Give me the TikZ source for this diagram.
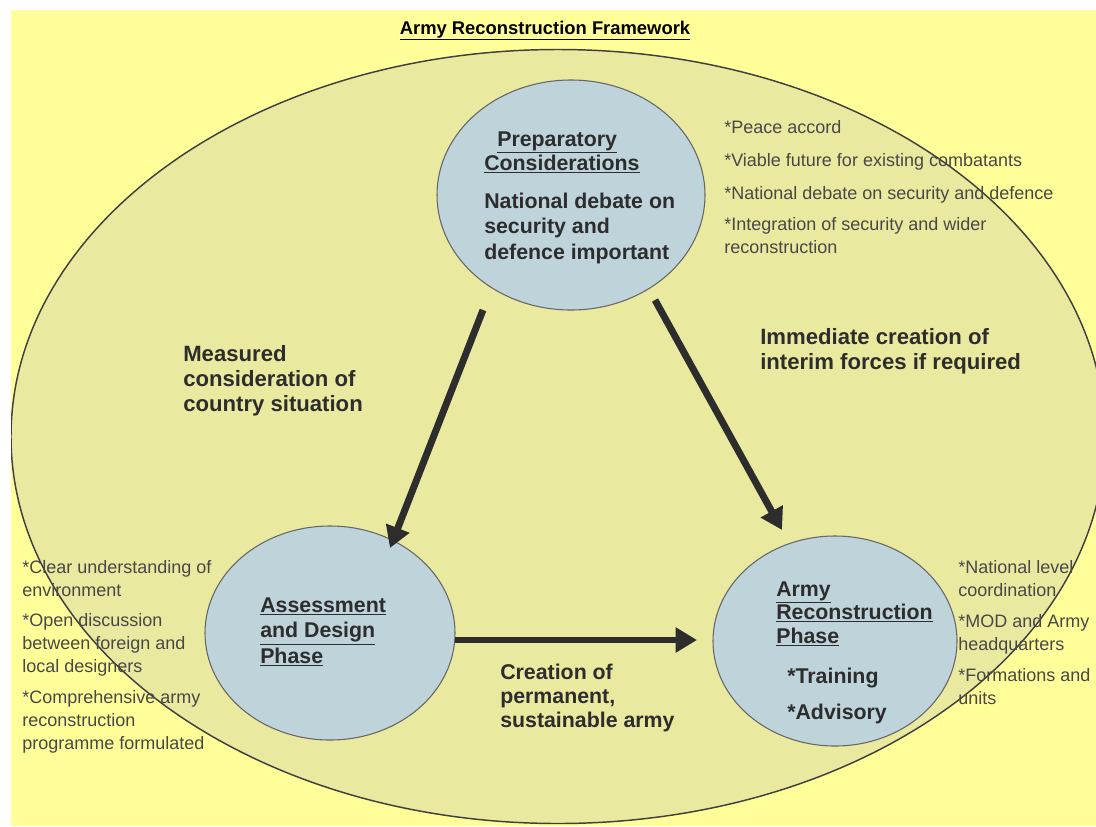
\documentclass[tikz,border=0pt]{standalone}
\usepackage{fontspec}
\setmainfont{Liberation Sans}
\usetikzlibrary{shapes.geometric,arrows.meta,calc}
\definecolor{bgyellow}{RGB}{255,254,153}
\definecolor{ellfill}{RGB}{234,233,160}
\definecolor{circfill}{RGB}{190,212,218}
\definecolor{txtdark}{RGB}{45,45,45}
\definecolor{txtgray}{RGB}{72,72,72}
\definecolor{arrowcol}{RGB}{45,45,45}
\begin{document}
\begin{tikzpicture}[x=0.75pt,y=-0.75pt,
  phase/.style={ellipse, draw=black!60, line width=0.8pt, fill=circfill, inner sep=0},
  boldtxt/.style={font=\bfseries\fontsize{16}{19}\selectfont, text=txtdark, align=left, anchor=base west, inner sep=0},
  sidetxt/.style={font=\fontsize{13.5}{16.9}\selectfont, text=txtgray, align=left, anchor=base west, inner sep=0},
  bigarrow/.style={draw=arrowcol, line width=5.2pt, -{Triangle[length=16pt,width=18pt]}}
]
\useasboundingbox (0,0) rectangle (1096,826);
\fill[bgyellow] (11,10) rectangle (1096,826);
\begin{scope}
  \clip (11,10) rectangle (1096,826);
  \draw[fill=ellfill, draw=black!75, line width=1.1pt] (558,436.5) ellipse [x radius=547, y radius=387];
\end{scope}

\node[font=\bfseries\fontsize{13.8}{16}\selectfont, anchor=base, inner sep=0] (title) at (545,34) {\underline{Army Reconstruction Framework}};

\node[phase, minimum width=268*0.75pt, minimum height=230*0.75pt] (prep) at (571,195) {};
\node[phase, minimum width=250*0.75pt, minimum height=214*0.75pt] (assess) at (330,633) {};
\node[phase, minimum width=244*0.75pt, minimum height=210*0.75pt] (armyrec) at (835,641) {};

\draw[bigarrow] ($(prep)+(-88,115)$) -- ($(assess)+(60,-85)$);
\draw[bigarrow] ($(prep)+(84,105)$) -- ($(armyrec)+(-53,-111)$);
\draw[bigarrow] ($(assess)+(125,7)$) -- ($(armyrec)+(-138,-1)$);

% anchor base west = baseline of the LAST line
\node[boldtxt, font=\bfseries\fontsize{16}{18}\selectfont] (prepT) at (484,170) {\hspace*{9.75pt}\underline{Preparatory}\\\underline{Considerations}};
\node[boldtxt] (prepB) at (484,259) {National debate on\\security and\\defence important};

\node[boldtxt, font=\bfseries\fontsize{16}{19.1}\selectfont] (assessT) at (260,663) {\underline{Assessment}\\\underline{and Design}\\\underline{Phase}};
\node[boldtxt, font=\bfseries\fontsize{16}{17.6}\selectfont] (armyT) at (776,643) {\underline{Army}\\\underline{Reconstruction}\\\underline{Phase}};
\node[boldtxt, font=\bfseries\fontsize{16}{27}\selectfont] (armyB) at (787,719) {*Training\\*Advisory};

\node[boldtxt, font=\bfseries\fontsize{16.6}{18.75}\selectfont] (measured) at (183,411) {Measured\\consideration of\\country situation};
\node[boldtxt, font=\bfseries\fontsize{16.6}{18.75}\selectfont] (immediate) at (760,369) {Immediate creation of\\interim forces if required};
\node[boldtxt, font=\bfseries\fontsize{16}{18}\selectfont] (creation) at (500,727) {Creation of\\permanent,\\sustainable army};

\node[sidetxt] (p1) at (724,133) {*Peace accord};
\node[sidetxt] (p2) at (724,166) {*Viable future for existing combatants};
\node[sidetxt] (p3) at (724,199) {*National debate on security and defence};
\node[sidetxt] (p4) at (724,253) {*Integration of security and wider\\reconstruction};

\node[sidetxt] (a1) at (22,596) {*Clear understanding of\\environment};
\node[sidetxt] (a2) at (22,672) {*Open discussion\\between foreign and\\local designers};
\node[sidetxt] (a3) at (22,749) {*Comprehensive army\\reconstruction\\programme formulated};

\node[sidetxt] (r1) at (958,596) {*National level\\coordination};
\node[sidetxt] (r2) at (958,650) {*MOD and Army\\headquarters};
\node[sidetxt] (r3) at (958,704) {*Formations and\\units};
\end{tikzpicture}
\end{document}
